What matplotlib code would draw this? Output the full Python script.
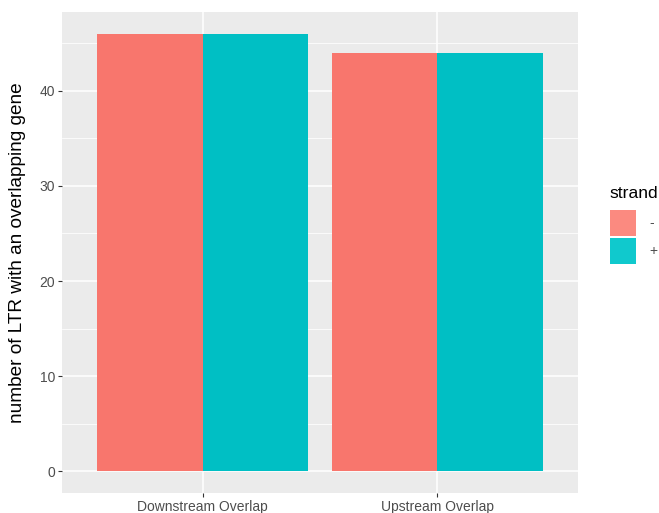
import matplotlib
matplotlib.use("Agg")
import numpy as np
import matplotlib.pyplot as plt
from matplotlib.patches import Patch

plt.rcParams['font.family'] = ['Liberation Sans', 'DejaVu Sans']

# data
categories = ['Downstream Overlap', 'Upstream Overlap']
strands = ['-', '+']
counts_minus = [46, 44]
counts_plus = [46, 44]
bar_colors = ['#F8766D', '#00BFC4']
key_colors = ['#FB8A80', '#10C9CD']

fig = plt.figure(figsize=(6.59, 5.13), dpi=100)
ax = fig.add_axes([62 / 659, 1 - 493 / 513, (578 - 62) / 659, (493 - 12) / 513])
ax.set_facecolor('#EBEBEB')

x = np.arange(1, len(categories) + 1)
w = 0.45
ax.bar(x - w / 2, counts_minus, width=w, color=bar_colors[0], zorder=3)
ax.bar(x + w / 2, counts_plus, width=w, color=bar_colors[1], zorder=3)

ax.set_xlim(0.4, 2.6)
ax.set_ylim(-2.3, 48.3)
ax.set_xticks(x)
ax.set_xticklabels(categories)
ax.set_yticks([0, 10, 20, 30, 40])
ax.set_yticks([5, 15, 25, 35, 45], minor=True)

ax.grid(which='major', color='white', linewidth=1.1, zorder=1)
ax.grid(which='minor', axis='y', color='white', linewidth=0.55, zorder=1)
ax.tick_params(which='minor', length=0)
ax.tick_params(which='major', length=3, width=0.8, color='#333333',
               labelcolor='#4D4D4D', labelsize=10, pad=2)
for s in ax.spines.values():
    s.set_visible(False)

ax.set_ylabel('number of LTR with an overlapping gene', fontsize=13.7, color='black')
ax.yaxis.set_label_coords(-0.070, 0.5)

# legend: title as separate text so the gap to the keys matches
fig.text(609 / 659, 1 - 193 / 513, 'strand', fontsize=12.6, ha='left', va='center')
handles = [Patch(facecolor=c, edgecolor='none') for c in key_colors]
leg = fig.legend(handles, strands, loc='upper left',
                 bbox_to_anchor=(610 / 659, 1 - 210 / 513), frameon=False,
                 fontsize=10, handlelength=1.9, handleheight=2.5, borderpad=0,
                 handletextpad=0.9, labelspacing=0.15, borderaxespad=0)
for t in leg.get_texts():
    t.set_color('#4D4D4D')

fig.savefig('out.png', dpi=100)
